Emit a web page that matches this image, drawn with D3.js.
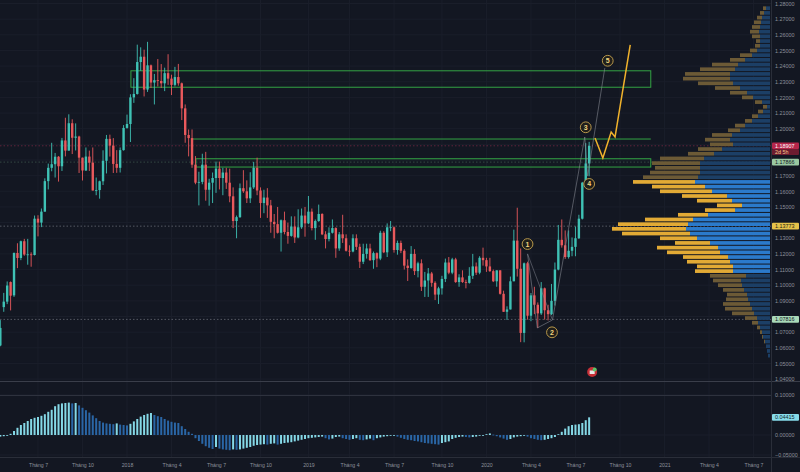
<!DOCTYPE html>
<html><head><meta charset="utf-8">
<script src="https://cdn.jsdelivr.net/npm/d3@7"></script>
<style>
html,body{margin:0;padding:0;background:#131722;}
svg{display:block;}
text{font-family:"Liberation Sans",Arial,sans-serif;}
</style></head><body>
<svg id="c" width="800" height="472"></svg>
<script>
// ---------- DATA ----------
const firstWeek = "2017-04-17";
const lastWeek = "2020-08-03";
// weekly [open, high, low, close]
const ohlc2017 = [
[1.0615,1.0777,1.0610,1.0727],[1.0860,1.0951,1.0830,1.0895],[1.0895,1.1024,1.0879,1.0998],[1.1020,1.1024,1.0839,1.0933],
[1.0935,1.1209,1.0925,1.1206],[1.1206,1.1268,1.1109,1.1174],[1.1174,1.1285,1.1160,1.1281],[1.1281,1.1296,1.1188,1.1196],
[1.1196,1.1296,1.1131,1.1197],[1.1197,1.1210,1.1118,1.1193],[1.1193,1.1445,1.1190,1.1425],[1.1425,1.1447,1.1312,1.1400],
[1.1400,1.1490,1.1371,1.1470],[1.1470,1.1683,1.1470,1.1665],[1.1665,1.1777,1.1612,1.1750],[1.1750,1.1910,1.1728,1.1773],
[1.1773,1.1845,1.1688,1.1821],[1.1821,1.1825,1.1662,1.1760],[1.1760,1.1941,1.1730,1.1925],[1.1925,1.2070,1.1823,1.1860],
[1.1860,1.2092,1.1860,1.2035],[1.2035,1.2060,1.1838,1.1942],[1.1942,1.2034,1.1861,1.1950],[1.1950,1.1955,1.1717,1.1815],
[1.1815,1.1815,1.1669,1.1733],[1.1733,1.1880,1.1730,1.1822],[1.1822,1.1860,1.1730,1.1783],[1.1783,1.1880,1.1605,1.1605],
[1.1605,1.1688,1.1575,1.1608],[1.1608,1.1668,1.1553,1.1664],[1.1664,1.1862,1.1640,1.1795],[1.1795,1.1960,1.1714,1.1935],
[1.1935,1.1962,1.1822,1.1892],[1.1892,1.1940,1.1717,1.1775],[1.1775,1.1863,1.1718,1.1750],[1.1750,1.1880,1.1720,1.1863],
[1.1863,1.2023,1.1860,1.2005]];
const ohlc2018 = [
[1.2005,1.2090,1.2000,1.2030],[1.2030,1.2220,1.1915,1.2200],[1.2200,1.2323,1.2165,1.2222],[1.2222,1.2537,1.2218,1.2426],
[1.2426,1.2520,1.2370,1.2460],[1.2460,1.2505,1.2206,1.2250],[1.2250,1.2555,1.2235,1.2405],[1.2405,1.2410,1.2260,1.2295],
[1.2295,1.2350,1.2155,1.2310],[1.2310,1.2445,1.2270,1.2305],[1.2305,1.2413,1.2260,1.2290],[1.2290,1.2390,1.2240,1.2355],
[1.2355,1.2476,1.2280,1.2320],[1.2320,1.2345,1.2215,1.2280],[1.2280,1.2395,1.2270,1.2330],[1.2330,1.2414,1.2275,1.2290],
[1.2290,1.2295,1.2055,1.2130],[1.2130,1.2155,1.1910,1.1960],[1.1960,1.1995,1.1823,1.1940],[1.1940,1.1995,1.1750,1.1770],
[1.1770,1.1825,1.1645,1.1655],[1.1655,1.1725,1.1510,1.1660],[1.1660,1.1840,1.1645,1.1770],[1.1770,1.1852,1.1540,1.1610],
[1.1610,1.1680,1.1508,1.1655],[1.1655,1.1720,1.1525,1.1685],[1.1685,1.1790,1.1590,1.1745],[1.1745,1.1790,1.1612,1.1685],
[1.1685,1.1750,1.1575,1.1720],[1.1720,1.1750,1.1615,1.1655],[1.1655,1.1745,1.1530,1.1568],[1.1568,1.1625,1.1365,1.1410],
[1.1410,1.1445,1.1300,1.1435],[1.1435,1.1650,1.1430,1.1620],[1.1620,1.1735,1.1590,1.1600],[1.1600,1.1670,1.1525,1.1555],
[1.1555,1.1722,1.1525,1.1625],[1.1625,1.1788,1.1615,1.1750],[1.1750,1.1815,1.1575,1.1605],[1.1605,1.1625,1.1430,1.1525],
[1.1525,1.1610,1.1460,1.1560],[1.1560,1.1620,1.1430,1.1510],[1.1510,1.1545,1.1335,1.1405],[1.1405,1.1455,1.1300,1.1390],
[1.1390,1.1500,1.1330,1.1335],[1.1335,1.1420,1.1215,1.1415],[1.1415,1.1470,1.1325,1.1340],[1.1340,1.1400,1.1265,1.1315],
[1.1315,1.1440,1.1310,1.1375],[1.1375,1.1440,1.1270,1.1305],[1.1305,1.1485,1.1300,1.1370],[1.1370,1.1490,1.1360,1.1445],
[1.1445,1.1500,1.1310,1.1395]];
const ohlc2019 = [
[1.1395,1.1570,1.1390,1.1470],[1.1470,1.1490,1.1350,1.1365],[1.1365,1.1420,1.1290,1.1410],[1.1410,1.1515,1.1405,1.1455],
[1.1455,1.1460,1.1320,1.1325],[1.1325,1.1345,1.1235,1.1295],[1.1295,1.1370,1.1280,1.1335],[1.1335,1.1420,1.1330,1.1365],
[1.1365,1.1370,1.1175,1.1235],[1.1235,1.1340,1.1220,1.1325],[1.1325,1.1450,1.1270,1.1300],[1.1300,1.1325,1.1215,1.1220],
[1.1220,1.1255,1.1185,1.1215],[1.1215,1.1325,1.1210,1.1300],[1.1300,1.1325,1.1225,1.1245],[1.1245,1.1265,1.1110,1.1150],
[1.1150,1.1265,1.1135,1.1200],[1.1200,1.1265,1.1170,1.1235],[1.1235,1.1265,1.1155,1.1160],[1.1160,1.1215,1.1105,1.1205],
[1.1205,1.1210,1.1115,1.1170],[1.1170,1.1348,1.1160,1.1335],[1.1335,1.1345,1.1205,1.1210],[1.1210,1.1395,1.1180,1.1370],
[1.1370,1.1410,1.1345,1.1370],[1.1370,1.1375,1.1208,1.1225],[1.1225,1.1285,1.1195,1.1270],[1.1270,1.1285,1.1205,1.1220],
[1.1220,1.1230,1.1100,1.1125],[1.1125,1.1165,1.1027,1.1110],[1.1110,1.1250,1.1105,1.1200],[1.1200,1.1230,1.1065,1.1090],
[1.1090,1.1150,1.1050,1.1140],[1.1140,1.1165,1.0963,1.0990],[1.0990,1.1085,1.0925,1.1030],[1.1030,1.1110,1.0925,1.1075],
[1.1075,1.1085,1.0990,1.1015],[1.1015,1.1025,1.0905,1.0940],[1.0940,1.0990,1.0880,1.0980],[1.0980,1.1060,1.0940,1.1040],
[1.1040,1.1170,1.1020,1.1145],[1.1145,1.1180,1.1070,1.1080],[1.1080,1.1175,1.1070,1.1165],[1.1165,1.1175,1.1015,1.1020],
[1.1020,1.1070,1.0990,1.1050],[1.1050,1.1095,1.1015,1.1020],[1.1020,1.1035,1.0980,1.1015],[1.1015,1.1115,1.1010,1.1060],
[1.1060,1.1200,1.1040,1.1120],[1.1120,1.1145,1.1065,1.1080],[1.1080,1.1185,1.1070,1.1175],[1.1175,1.1240,1.1125,1.1160]];
const ohlc2020 = [
[1.1160,1.1175,1.1085,1.1120],[1.1120,1.1175,1.1085,1.1090],[1.1090,1.1100,1.1020,1.1025],[1.1025,1.1095,1.0990,1.1095],
[1.1095,1.1095,1.0940,1.0945],[1.0945,1.0965,1.0830,1.0830],[1.0830,1.0865,1.0778,1.0845],[1.0845,1.1055,1.0845,1.1025],
[1.1025,1.1355,1.1025,1.1285],[1.1285,1.1495,1.1055,1.1105],[1.1105,1.1235,1.0636,1.0695],[1.0695,1.1145,1.0635,1.1140],
[1.1140,1.1150,1.0780,1.0805],[1.0805,1.0950,1.0770,1.0935],[1.0935,1.0990,1.0815,1.0875],[1.0875,1.0890,1.0727,1.0820],
[1.0820,1.1020,1.0810,1.0980],[1.0980,1.0985,1.0780,1.0840],[1.0840,1.0875,1.0775,1.0815],[1.0815,1.1008,1.0810,1.0900],
[1.0900,1.1145,1.0870,1.1100],[1.1100,1.1385,1.1095,1.1290],[1.1290,1.1420,1.1240,1.1255],[1.1255,1.1350,1.1168,1.1180],
[1.1180,1.1350,1.1170,1.1220],[1.1220,1.1305,1.1185,1.1245],[1.1245,1.1375,1.1185,1.1300],[1.1300,1.1450,1.1295,1.1425],
[1.1425,1.1660,1.1420,1.1655],[1.1655,1.1908,1.1630,1.1778],[1.1778,1.1916,1.1696,1.18907]];

// oscillator histogram (one value per week)
const oscValues = [
-0.004,-0.003,0.000,0.003,0.010,0.018,0.025,0.030,0.035,0.040,0.043,0.045,0.048,0.052,0.058,0.063,0.072,0.077,0.079,0.080,
0.081,0.079,0.080,0.074,0.068,0.062,0.056,0.049,0.042,0.035,0.031,0.029,0.028,0.027,0.029,0.026,0.025,0.024,0.028,0.034,
0.040,0.046,0.050,0.053,0.055,0.050,0.047,0.045,0.040,0.036,0.033,0.031,0.030,0.022,0.015,0.008,0.003,-0.008,-0.015,-0.022,
-0.028,-0.032,-0.035,-0.030,-0.034,-0.036,-0.037,-0.038,-0.036,-0.037,-0.036,-0.034,-0.032,-0.030,-0.027,-0.025,-0.024,-0.023,-0.024,-0.022,
-0.021,-0.024,-0.022,-0.020,-0.019,-0.018,-0.016,-0.014,-0.012,-0.010,-0.008,-0.007,-0.006,-0.005,-0.004,-0.008,-0.011,-0.009,-0.005,-0.004,
-0.008,-0.010,-0.012,-0.010,-0.008,-0.012,-0.013,-0.011,-0.009,-0.013,-0.008,-0.006,-0.004,-0.003,-0.002,-0.002,-0.004,-0.007,-0.010,-0.012,
-0.013,-0.015,-0.016,-0.018,-0.020,-0.021,-0.022,-0.023,-0.024,-0.020,-0.018,-0.016,-0.010,-0.007,-0.005,-0.004,-0.005,-0.006,-0.005,-0.004,
-0.002,-0.001,0.002,0.004,0.001,-0.003,-0.006,-0.009,-0.012,-0.010,-0.006,-0.004,-0.003,-0.001,-0.004,-0.008,-0.010,-0.012,-0.013,-0.012,
-0.010,-0.008,-0.005,0.002,0.008,0.016,0.022,0.025,0.026,0.027,0.030,0.037,0.04415];

// volume profile rows (price of row centre, up volume, down volume)
const vpTopPrice = 1.2770, vpStep = 0.003;
const vpUp =   [4,6,8,9,10,11,10,10,10,13,18,25,32,35,40,40,37,30,23,17,8,3,7,12,18,25,30,38,40,37,48,56,66,70,70,70,72,75,65,58,43,38,28,35,62,77,82,84,80,73,60,52,50,42,40,37,37,24,29,28,26,23,22,20,18,16,13,12,10,8,7,5,4,3,2];
const vpDown = [3,4,5,7,8,9,8,4,5,7,12,15,26,35,45,47,35,25,17,11,7,4,5,6,7,10,12,20,25,23,24,26,44,48,45,50,55,62,53,52,45,35,25,30,30,48,70,74,68,37,35,61,53,45,43,36,38,36,28,24,21,20,22,27,27,22,12,6,3,2,1,1,0,0,0];
const vaHigh = 1.1675, vaLow = 1.1075;

// drawings
const zones = [["2018-01-09","2020-12-07",1.2370,1.2265],["2018-05-22","2020-12-07",1.1808,1.1755]];
const zoneLines = [["2018-05-16","2020-12-07",1.1934]];
const waveLine = [["2020-03-30",1.1200],["2020-04-19",1.0727],["2020-05-20",1.0778],["2020-07-25",1.1947],["2020-07-31",1.1697],["2020-09-04",1.2388]];
const waveExtra = [["2020-03-30",1.1200],["2020-05-20",1.0778]];
const waveLabels = [["1","2020-03-30",1.1263],["2","2020-05-19",1.0699],["3","2020-07-27",1.2009],["4","2020-08-03",1.1647],["5","2020-09-10",1.2434]];
const projection = [["2020-08-15",1.1941],["2020-08-31",1.1813],["2020-09-17",1.1979],["2020-09-25",1.1947],["2020-10-26",1.2535]];

const lastPrice = 1.18907, lastCountdown = "2d 5h";
const linePrice = 1.17866, pocPrice = 1.13773, lowPrice = 1.07816;

const priceTicks = [1.04,1.05,1.06,1.07,1.09,1.10,1.11,1.12,1.13,1.15,1.16,1.17,1.20,1.21,1.22,1.23,1.24,1.25,1.26,1.27,1.28];
const oscTicks = [0.10,0.00,-0.05];
const timeTickMonths = ["2017-07","2017-10","2018-01","2018-04","2018-07","2018-10","2019-01","2019-04","2019-07","2019-10","2020-01","2020-04","2020-07","2020-10","2021-01","2021-04","2021-07"];
const timeTickLabels = ["Tháng 7","Tháng 10","2018","Tháng 4","Tháng 7","Tháng 10","2019","Tháng 4","Tháng 7","Tháng 10","2020","Tháng 4","Tháng 7","Tháng 10","2021","Tháng 4","Tháng 7"];

// ---------- CHART ----------
const svg = d3.select("#c");
const D = s => new Date(s + "T00:00:00Z");
const x = d3.scaleUtc().domain([D("2018-01-01"), D("2021-01-01")]).range([127, 663]);
const y = d3.scaleLinear().domain([1.04, 1.28]).range([379.1, 3.5]);
const yo = d3.scaleLinear().domain([-0.05, 0.10]).range([455, 395]);
const AX = 771, MAINB = 381;

const weeks = d3.utcMonday.range(D(firstWeek), d3.utcDay.offset(D(lastWeek), 1));
const rows = [].concat(ohlc2017, ohlc2018, ohlc2019, ohlc2020);
const candles = weeks.map((d, i) => ({date: d, o: rows[i][0], h: rows[i][1], l: rows[i][2], c: rows[i][3]}));

svg.append("rect").attr("width", 800).attr("height", 472).attr("fill", "#131722");
const defs = svg.append("defs");
defs.append("clipPath").attr("id", "mainClip").append("rect").attr("x", 0).attr("y", 0).attr("width", AX).attr("height", MAINB);
defs.append("clipPath").attr("id", "oscClip").append("rect").attr("x", 0).attr("y", 397).attr("width", AX).attr("height", 60);

const timeTicks = timeTickMonths.map(m => d3.utcMonday.ceil(D(m + "-01")));

// grid
const grid = svg.append("g");
grid.selectAll(".vg").data(timeTicks).join("line")
  .attr("x1", d => x(d)).attr("x2", d => x(d)).attr("y1", 0).attr("y2", 457)
  .attr("stroke", "#1a1e2a").attr("stroke-width", 1);
grid.selectAll(".hg").data(d3.range(1.04, 1.2801, 0.01)).join("line")
  .attr("x1", 0).attr("x2", AX).attr("y1", d => y(d)).attr("y2", d => y(d))
  .attr("stroke", "#1a1e2a").attr("stroke-width", 1);
grid.selectAll(".og").data(oscTicks).join("line")
  .attr("x1", 0).attr("x2", AX).attr("y1", d => yo(d)).attr("y2", d => yo(d))
  .attr("stroke", "#1a1e2a");

const main = svg.append("g").attr("clip-path", "url(#mainClip)");

// dashed price lines
[[pocPrice, "#9ea3ab", 0.6], [lowPrice, "#9ea3ab", 0.6], [lastPrice, "#c2385e", 0.55], [linePrice, "#8fc79b", 0.35]].forEach(([p, col, op]) => {
  main.append("line").attr("x1", 0).attr("x2", AX).attr("y1", y(p)).attr("y2", y(p))
    .attr("stroke", col).attr("stroke-opacity", op).attr("stroke-dasharray", "1.5,2").attr("stroke-width", 0.8);
});

// volume profile
const vp = vpUp.map((u, i) => ({p: vpTopPrice - vpStep * i, up: u, down: vpDown[i]}));
const vx = d3.scaleLinear().domain([0, d3.max(vp, d => d.up + d.down)]).range([0, 158]);
const rowH = Math.abs(y(0) - y(vpStep));
const vg = main.append("g");
vp.forEach(r => {
  const inVA = r.p <= vaHigh && r.p >= vaLow;
  const yc = y(r.p);
  const wu = vx(r.up), wd = vx(r.down);
  vg.append("rect").attr("x", AX - 1 - wu - wd).attr("y", yc - rowH / 2 + 0.5).attr("width", wd).attr("height", rowH - 1)
    .attr("fill", inVA ? "#e2aa35" : "#6c5a36");
  vg.append("rect").attr("x", AX - 1 - wu).attr("y", yc - rowH / 2 + 0.5).attr("width", wu).attr("height", rowH - 1)
    .attr("fill", inVA ? "#2b7acb" : "#1c3f66");
});

// zones
const zg = main.append("g");
zones.forEach(([a, b, t, bo]) => {
  zg.append("rect").attr("x", x(D(a))).attr("y", y(t)).attr("width", x(D(b)) - x(D(a))).attr("height", y(bo) - y(t))
    .attr("fill", "rgba(60,170,70,0.015)").attr("stroke", "#33a444").attr("stroke-width", 1);
});
zoneLines.forEach(([a, b, p]) => {
  zg.append("line").attr("x1", x(D(a))).attr("x2", x(D(b))).attr("y1", y(p)).attr("y2", y(p))
    .attr("stroke", "#33a444").attr("stroke-width", 1);
});

// candles
const UP = "#3fc2b5", DOWN = "#e9595c";
const bw = 2.4;
const cg = main.append("g");
cg.selectAll(".w").data(candles).join("line")
  .attr("x1", d => x(d.date)).attr("x2", d => x(d.date))
  .attr("y1", d => y(d.h)).attr("y2", d => y(d.l))
  .attr("stroke", d => d.c >= d.o ? UP : DOWN).attr("stroke-width", 0.9);
cg.selectAll(".b").data(candles).join("rect")
  .attr("x", d => x(d.date) - bw / 2).attr("width", bw)
  .attr("y", d => y(Math.max(d.o, d.c)))
  .attr("height", d => Math.max(0.8, Math.abs(y(d.o) - y(d.c))))
  .attr("fill", d => d.c >= d.o ? UP : DOWN);

// waves
const lineGen = d3.line().x(d => x(D(d[0]))).y(d => y(d[1]));
main.append("path").attr("d", lineGen(waveLine)).attr("fill", "none").attr("stroke", "#8b8e97").attr("stroke-opacity", 0.7).attr("stroke-width", 0.8);
main.append("path").attr("d", lineGen(waveExtra)).attr("fill", "none").attr("stroke", "#8b8e97").attr("stroke-opacity", 0.6).attr("stroke-width", 0.8);
main.append("path").attr("d", lineGen(projection)).attr("fill", "none").attr("stroke", "#f0b22c").attr("stroke-width", 1.5).attr("stroke-linejoin", "miter");
const wl = main.selectAll(".wl").data(waveLabels).join("g").attr("transform", d => `translate(${x(D(d[1]))},${y(d[2])})`);
wl.append("circle").attr("r", 5.4).attr("fill", "#201f1b").attr("stroke", "#b8974a").attr("stroke-width", 1);
wl.append("text").text(d => d[0]).attr("text-anchor", "middle").attr("dy", "0.36em")
  .attr("font-size", 7).attr("font-weight", "bold").attr("fill", "#f2d47e");

// event icon
const ev = main.append("g").attr("transform", `translate(${x(D(lastWeek)) + 3},372)`);
ev.append("circle").attr("r", 5).attr("fill", "#c62f37");
ev.append("rect").attr("x", -2.5).attr("y", -1.5).attr("width", 5).attr("height", 3.5).attr("fill", "#e8e8e8");
ev.append("circle").attr("cx", 2.5).attr("cy", -2.5).attr("r", 2).attr("fill", "#5cc469");

// oscillator
const og = svg.append("g").attr("clip-path", "url(#oscClip)");
og.selectAll("rect").data(oscValues.map((v, i) => ({v, date: weeks[i], rise: i === 0 || v >= oscValues[i - 1]}))).join("rect")
  .attr("x", d => x(d.date) - 1).attr("width", 2)
  .attr("y", d => Math.min(yo(0), yo(d.v)))
  .attr("height", d => Math.max(0.8, Math.abs(yo(d.v) - yo(0))))
  .attr("fill", d => d.rise ? "#85d8e6" : "#2a66a6");

// separators
svg.append("line").attr("x1", 0).attr("x2", 800).attr("y1", MAINB + 0.5).attr("y2", MAINB + 0.5).attr("stroke", "#3a3e4a");
svg.append("line").attr("x1", 0).attr("x2", AX).attr("y1", 395.5).attr("y2", 395.5).attr("stroke", "#2e323e");
svg.append("line").attr("x1", 0).attr("x2", 800).attr("y1", 457.5).attr("y2", 457.5).attr("stroke", "#2a2e39");
svg.append("line").attr("x1", AX + 0.5).attr("x2", AX + 0.5).attr("y1", 0).attr("y2", 472).attr("stroke", "#2a2e39");

// axes
const axisCol = "#8c909b";
const pa = svg.append("g").attr("transform", `translate(${AX},0)`)
  .call(d3.axisRight(y).tickValues(priceTicks).tickFormat(d3.format(".5f")).tickSize(0).tickPadding(4));
pa.select(".domain").remove();
pa.selectAll("text").attr("fill", axisCol).attr("font-size", 5.4).attr("font-family", "Liberation Sans, Arial, sans-serif");
const oa = svg.append("g").attr("transform", `translate(${AX},0)`)
  .call(d3.axisRight(yo).tickValues(oscTicks).tickFormat(d3.format(".5f")).tickSize(0).tickPadding(4));
oa.select(".domain").remove();
oa.selectAll("text").attr("fill", axisCol).attr("font-size", 5.4).attr("font-family", "Liberation Sans, Arial, sans-serif");
const ta = svg.append("g").attr("transform", "translate(0,459)")
  .call(d3.axisBottom(x).tickValues(timeTicks).tickFormat((d, i) => timeTickLabels[i]).tickSize(0).tickPadding(4));
ta.select(".domain").remove();
ta.selectAll("text").attr("fill", axisCol).attr("font-size", 5.2).attr("font-family", "Liberation Sans, Arial, sans-serif");

// price labels on axis
function tag(yc, txt, bg, fg, h) {
  svg.append("rect").attr("x", AX + 1).attr("y", yc - h / 2).attr("width", 27).attr("height", h).attr("rx", 1).attr("fill", bg);
  svg.append("text").attr("x", AX + 4).attr("y", yc).attr("dy", "0.36em").attr("font-size", 5.4).attr("fill", fg).text(txt);
}
tag(y(lastPrice), d3.format(".5f")(lastPrice), "#b5264a", "#ffffff", 6.6);
tag(y(lastPrice) + 6.3, lastCountdown, "#6d1c30", "#f4c98a", 6);
tag(y(linePrice), d3.format(".5f")(linePrice), "#9ac8a1", "#10151d", 6.6);
tag(y(pocPrice), d3.format(".5f")(pocPrice), "#e6c24a", "#1a1a12", 6.6);
tag(y(lowPrice), d3.format(".5f")(lowPrice), "#a9d9b8", "#10151d", 6.6);
tag(yo(oscValues[oscValues.length - 1]), d3.format(".5f")(oscValues[oscValues.length - 1]), "#86dcea", "#10262c", 6.6);
</script>
</body></html>
